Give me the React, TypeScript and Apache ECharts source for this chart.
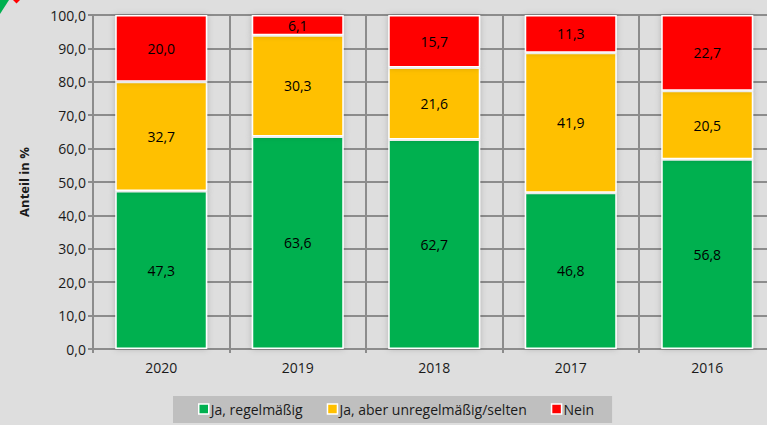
import React, { useEffect, useRef } from "react";
import * as echarts from "echarts";

const categories = ["2020", "2019", "2018", "2017", "2016"];
const regular = [47.3, 63.6, 62.7, 46.8, 56.8];
const irregular = [32.7, 30.3, 21.6, 41.9, 20.5];
const never = [20.0, 6.1, 15.7, 11.3, 22.7];
const seriesNames = ["Ja, regelmäßig", "Ja, aber unregelmäßig/selten", "Nein"];
const FONT = "'Open Sans', sans-serif";
const fmt = (v: number) => v.toFixed(1).replace(".", ",");

function App() {
  const ref = useRef<HTMLDivElement>(null);
  useEffect(() => {
    const chart = echarts.init(ref.current!, null, { renderer: "svg" });
    const mk = (name: string, data: number[], color: string) => ({
      name,
      type: "bar",
      stack: "a",
      data,
      barWidth: 92,
      itemStyle: {
        color,
        borderColor: "#fff",
        borderWidth: 1.5,
        shadowBlur: 6,
        shadowColor: "rgba(0,0,0,0.2)",
        shadowOffsetX: 0,
      },
      label: {
        show: true,
        position: "inside",
        color: "#000",
        fontFamily: FONT,
        fontSize: 14,
        formatter: (p: any) => fmt(p.value),
      },
    });
    chart.setOption({
      animation: false,
      backgroundColor: "#dedede",
      grid: { left: 93, top: 15, width: 682.5, height: 334, outerBoundsMode: "none" },
      legend: {
        left: 173,
        top: 396,
        padding: [6, 18, 7, 25],
        backgroundColor: "#bfbfbf",
        itemWidth: 10,
        itemHeight: 10,
        itemGap: 24,
        icon: "rect",
        itemStyle: { borderColor: "#fff", borderWidth: 1.5 },
        textStyle: { fontFamily: FONT, fontSize: 14, color: "#1a1a1a", padding: [0, 0, 0, -3] },
        data: seriesNames,
      },
      xAxis: {
        type: "category",
        data: categories,
        axisLine: { lineStyle: { color: "#8c8c8c", width: 2 } },
        axisTick: { show: true, length: 4, alignWithLabel: false, lineStyle: { color: "#8c8c8c", width: 2 } },
        splitLine: { show: true, lineStyle: { color: "#8c8c8c", width: 2 } },
        axisLabel: { color: "#1a1a1a", fontFamily: FONT, fontSize: 14, margin: 11, interval: 0 },
      },
      yAxis: {
        type: "value",
        min: 0,
        max: 100,
        interval: 10,
        name: "Anteil in %",
        nameLocation: "middle",
        nameGap: 63,
        nameTextStyle: { fontFamily: FONT, fontWeight: "bold", fontSize: 13, color: "#1a1a1a" },
        axisLine: { show: true, lineStyle: { color: "#8c8c8c", width: 2 } },
        axisTick: { show: true, length: 5, lineStyle: { color: "#8c8c8c", width: 2 } },
        splitLine: { show: true, lineStyle: { color: "#8c8c8c", width: 2 } },
        axisLabel: { color: "#1a1a1a", fontFamily: FONT, fontSize: 14, margin: 7, formatter: (v: number) => fmt(v) },
      },
      series: [mk(seriesNames[0], regular, "#00b050"), mk(seriesNames[1], irregular, "#ffc000"), mk(seriesNames[2], never, "#ff0000")],
      graphic: [
        { type: "polygon", shape: { points: [[0, 0], [9, 0], [0, 14]] }, style: { fill: "#00b050" } },
        { type: "polygon", shape: { points: [[13, 0], [20, 0], [16.5, 3.5]] }, style: { fill: "#ff0000" } },
      ],
    });
    return () => chart.dispose();
  }, []);
  return <div ref={ref} style={{ position: "fixed", left: 0, top: 0, width: 767, height: 425 }} />;
}

export default App;
